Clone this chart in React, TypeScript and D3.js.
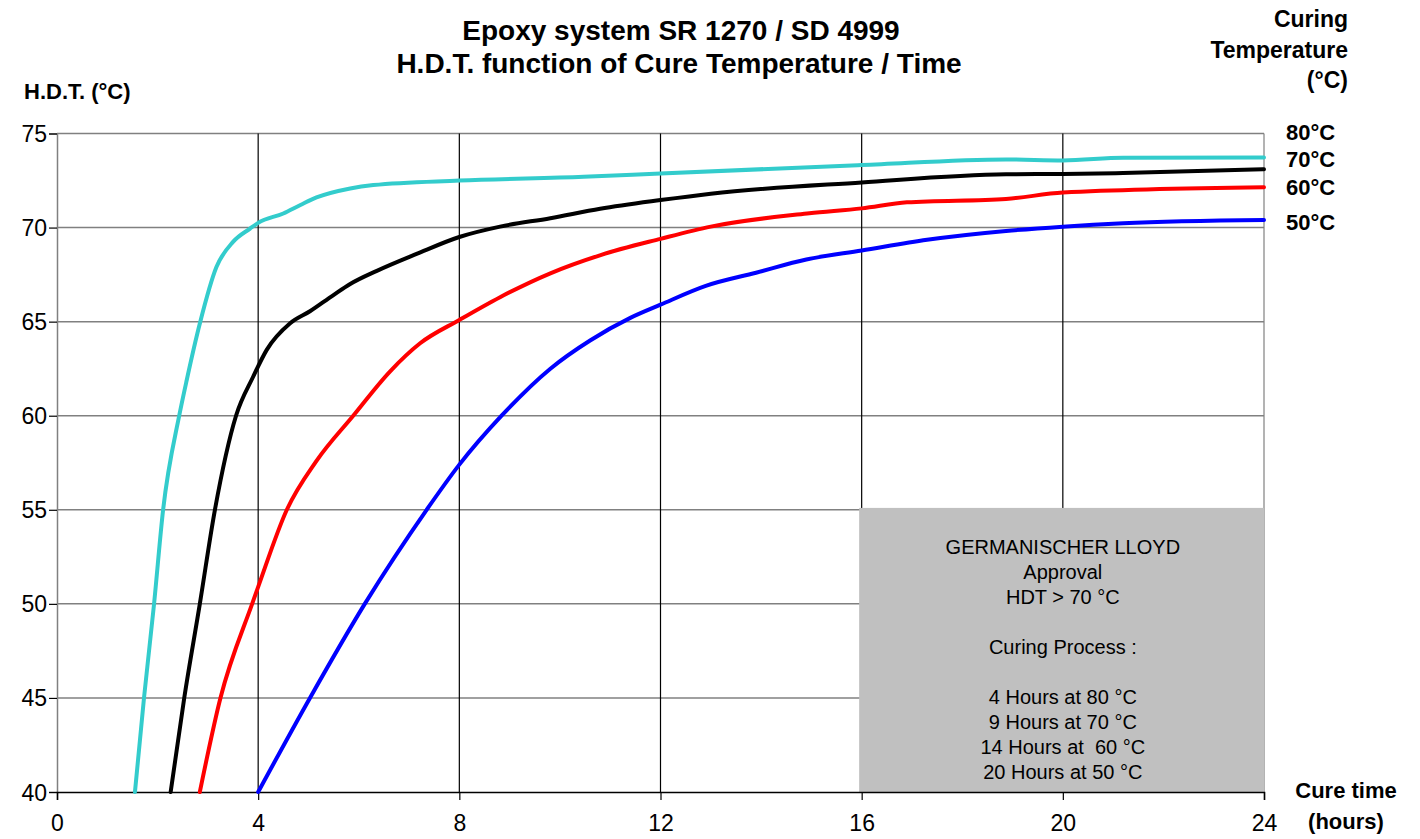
import React, { useEffect, useRef } from 'react';
import * as d3 from 'd3';

// cure time (hours) / HDT (°C)
const t80 = [1.55, 1.73, 1.93, 2.11, 2.43, 2.58, 2.84, 3.17, 3.5, 3.84, 4.0, 4.5, 4.84, 5.16, 5.83, 6.29, 8.0, 10.47, 12.0, 16.0, 18.87, 20.0, 21.2, 24.0];
const v80 = [40, 45, 50, 55, 60, 61.9, 64.9, 67.9, 69.24, 69.95, 70.25, 70.75, 71.2, 71.6, 72.08, 72.26, 72.5, 72.7, 72.88, 73.32, 73.62, 73.57, 73.71, 73.73];

const t70 = [2.26, 2.53, 2.84, 3.14, 3.56, 3.9, 4.17, 4.63, 5.03, 5.49, 5.83, 6.36, 7.15, 8.0, 8.81, 9.81, 10.8, 12.0, 13.0, 16.0, 18.87, 20.0, 21.2, 24.0];
const v70 = [40, 45, 50, 55, 60, 62.07, 63.5, 64.9, 65.55, 66.4, 67.0, 67.7, 68.6, 69.5, 70.05, 70.5, 71.0, 71.46, 71.8, 72.4, 72.83, 72.85, 72.9, 73.1];

const t60 = [2.84, 3.25, 3.88, 4.0, 4.57, 5.16, 5.89, 6.62, 7.22, 8.0, 8.81, 9.81, 10.81, 12.0, 13.0, 14.96, 16.0, 16.9, 18.87, 20.0, 24.0];
const v60 = [40, 45, 50, 50.9, 55, 57.6, 60.0, 62.35, 63.85, 65.09, 66.3, 67.57, 68.54, 69.4, 70.05, 70.76, 71.02, 71.34, 71.52, 71.86, 72.14];

const t50 = [4.0, 5.03, 6.12, 7.35, 8.0, 8.84, 9.81, 10.6, 11.4, 12.0, 12.9, 13.9, 14.9, 16.0, 17.3, 18.87, 20.0, 21.2, 24.0];
const v50 = [40, 45, 50, 55, 57.4, 60.0, 62.5, 64.0, 65.2, 65.9, 66.9, 67.6, 68.3, 68.78, 69.35, 69.82, 70.05, 70.23, 70.4];

const seriesNames = ['80°C', '70°C', '60°C', '50°C'];
const seriesColors = ['#33CCCC', '#000000', '#FF0000', '#0000FF'];
// label baselines, in HDT units
const labelValues = [74.65, 73.21, 71.73, 69.86];

const xTicks = [0, 4, 8, 12, 16, 20, 24];
const yTicks = [40, 45, 50, 55, 60, 65, 70, 75];

const boxLines = ['GERMANISCHER LLOYD', 'Approval', 'HDT > 70 °C', '', 'Curing Process :', '', '4 Hours at 80 °C', '9 Hours at 70 °C', '14 Hours at  60 °C', '20 Hours at 50 °C'];

const W = 1420;
const H = 839;
const font = 'Arial, "Liberation Sans", sans-serif';

const App = () => {
  const ref = useRef<SVGSVGElement | null>(null);

  useEffect(() => {
    document.body.style.margin = '0';
    if (!ref.current) return;
    const svg = d3.select(ref.current);
    svg.selectAll('*').remove();

    const x = d3.scaleLinear().domain([0, 24]).range([57, 1264]);
    const y = d3.scaleLinear().domain([40, 75]).range([792, 133.5]);

    // horizontal grid (grey)
    svg.append('g')
      .selectAll('line')
      .data(yTicks.slice(1))
      .enter()
      .append('line')
      .attr('x1', x(0))
      .attr('x2', x(24))
      .attr('y1', (d) => y(d))
      .attr('y2', (d) => y(d))
      .attr('stroke', '#808080')
      .attr('stroke-width', 1.5);

    // vertical grid (black)
    svg.append('g')
      .selectAll('line')
      .data(xTicks.slice(1))
      .enter()
      .append('line')
      .attr('x1', (d) => x(d))
      .attr('x2', (d) => x(d))
      .attr('y1', y(75))
      .attr('y2', y(40))
      .attr('stroke', (d) => (d === 24 ? '#808080' : '#000'))
      .attr('stroke-width', 1.2);

    // grey approval box
    svg.append('rect')
      .attr('x', x(15.95))
      .attr('y', y(55.1))
      .attr('width', x(24) - x(15.95))
      .attr('height', y(40) - y(55.1))
      .attr('fill', '#C0C0C0');

    const boxText = svg.append('text')
      .attr('text-anchor', 'middle')
      .attr('font-family', font)
      .attr('font-size', 20)
      .attr('fill', '#000');
    boxLines.forEach((l, i) => {
      boxText.append('tspan')
        .attr('x', x(20))
        .attr('y', y(55.1) + 46 + i * 25)
        .style('white-space', 'pre')
        .text(l);
    });

    // axes
    const xAxis = d3.axisBottom(x).tickValues(xTicks).tickSize(8).tickFormat(d3.format('d'));
    const yAxis = d3.axisLeft(y).tickValues(yTicks).tickSize(8).tickFormat(d3.format('d'));

    const gy = svg.append('g').attr('transform', `translate(${x(0)},0)`).call(yAxis);
    const gx = svg.append('g').attr('transform', `translate(0,${y(40)})`).call(xAxis);
    gy.select('.domain').attr('stroke', '#808080').attr('stroke-width', 1.5);
    gx.select('.domain').attr('stroke', '#000').attr('stroke-width', 1.5);
    [gx, gy].forEach((g) => {
      g.selectAll('.tick line').attr('stroke', '#000').attr('stroke-width', 1.2);
      g.selectAll('.tick text')
        .attr('font-family', font)
        .attr('font-size', 23)
        .attr('fill', '#000');
    });
    gx.selectAll('.tick text').attr('y', 39).attr('dy', 0);
    gy.selectAll('.tick text').attr('x', -10).attr('dy', '0.35em');

    // curves
    const line = d3.line<[number, number]>()
      .x((d) => x(d[0]))
      .y((d) => y(d[1]))
      .curve(d3.curveMonotoneX);

    const series: [number, number][][] = [
      t80.map((t, i) => [t, v80[i]]),
      t70.map((t, i) => [t, v70[i]]),
      t60.map((t, i) => [t, v60[i]]),
      t50.map((t, i) => [t, v50[i]]),
    ];
    series.forEach((s, i) => {
      svg.append('path')
        .datum(s)
        .attr('d', line)
        .attr('fill', 'none')
        .attr('stroke', seriesColors[i])
        .attr('stroke-width', 4)
        .attr('stroke-linecap', 'round')
        .attr('stroke-linejoin', 'round');
    });

    // series labels
    svg.append('g')
      .selectAll('text')
      .data(seriesNames)
      .enter()
      .append('text')
      .attr('x', 1286)
      .attr('y', (d, i) => y(labelValues[i]))
      .attr('font-family', font)
      .attr('font-weight', 'bold')
      .attr('font-size', 22)
      .attr('fill', '#000')
      .text((d) => d);

    // titles
    const title = svg.append('text')
      .attr('text-anchor', 'middle')
      .attr('font-family', font)
      .attr('font-weight', 'bold')
      .attr('font-size', 28)
      .attr('fill', '#000');
    title.append('tspan').attr('x', 681).attr('y', 40).text('Epoxy system SR 1270 / SD 4999');
    title.append('tspan').attr('x', 679).attr('y', 73).text('H.D.T. function of Cure Temperature / Time');

    svg.append('text')
      .attr('x', 24)
      .attr('y', 99)
      .attr('font-family', font)
      .attr('font-weight', 'bold')
      .attr('font-size', 22)
      .text('H.D.T. (°C)');

    const curing = svg.append('text')
      .attr('text-anchor', 'end')
      .attr('font-family', font)
      .attr('font-weight', 'bold')
      .attr('font-size', 23);
    ['Curing', 'Temperature', '(°C)'].forEach((l, i) => {
      curing.append('tspan').attr('x', 1348).attr('y', 27 + i * 30.5).text(l);
    });

    const cure = svg.append('text')
      .attr('text-anchor', 'middle')
      .attr('font-family', font)
      .attr('font-weight', 'bold')
      .attr('font-size', 22);
    cure.append('tspan').attr('x', 1346).attr('y', 798).text('Cure time');
    cure.append('tspan').attr('x', 1346).attr('y', 829).text('(hours)');
  }, []);

  return <svg ref={ref} width={W} height={H} style={{ display: 'block', background: '#fff' }} />;
};

export default App;
